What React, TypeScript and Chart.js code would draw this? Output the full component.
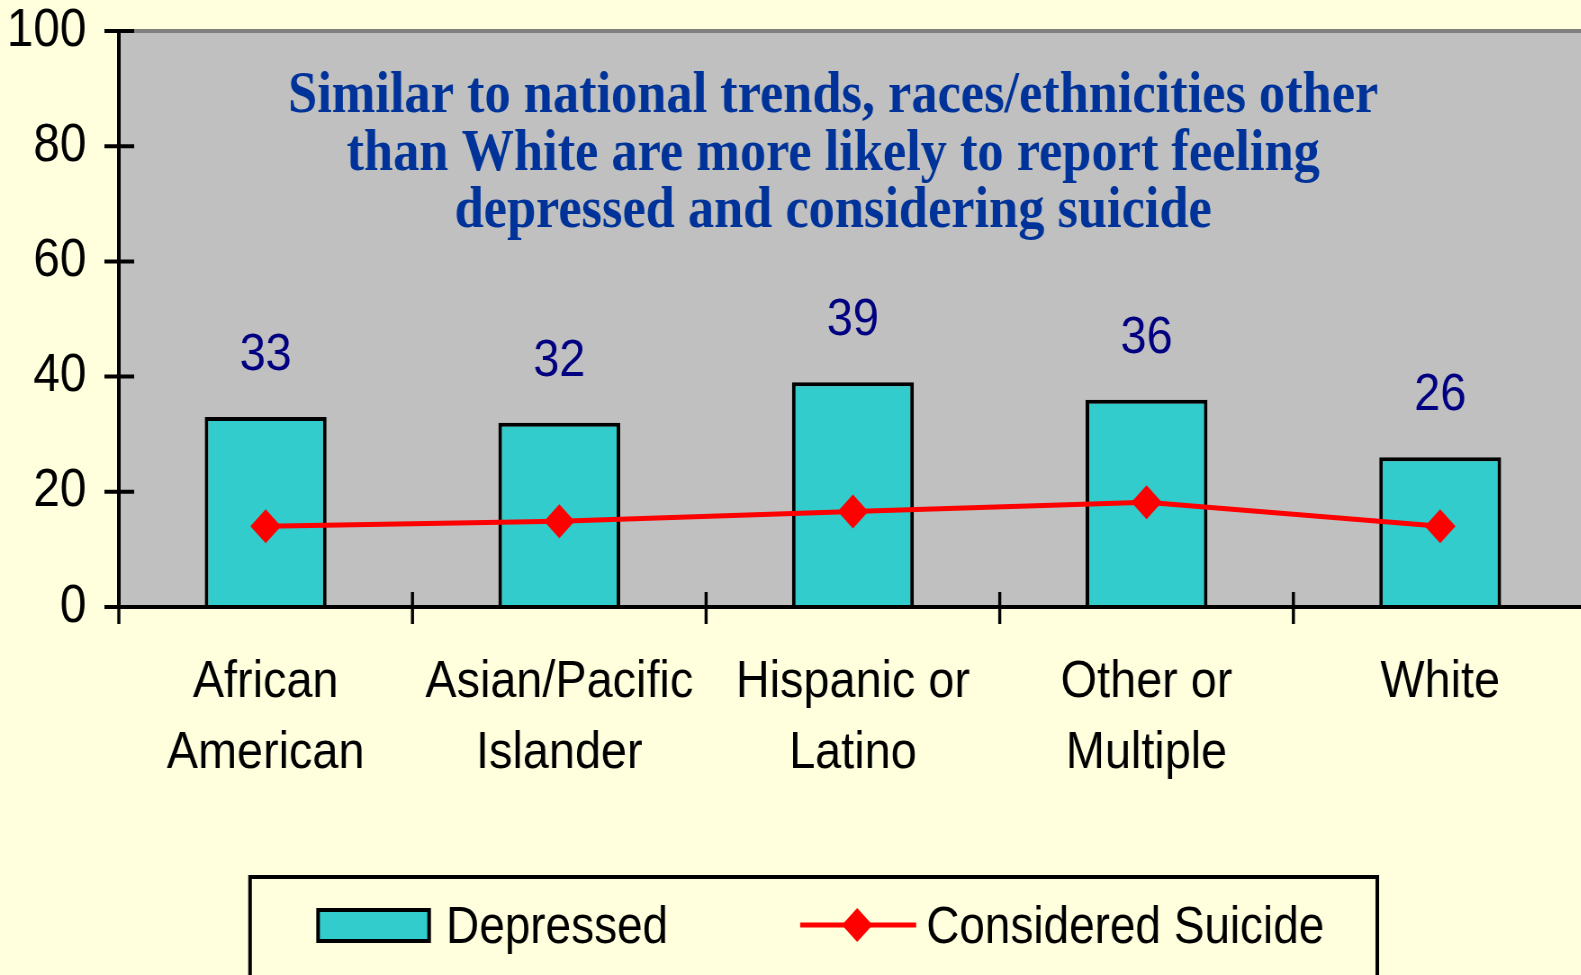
import { useEffect, useRef } from 'react';
import { Chart, registerables } from 'chart.js';

Chart.register(...registerables);

// ---------- data ----------
const categories: string[][] = [
  ['African', 'American'],
  ['Asian/Pacific', 'Islander'],
  ['Hispanic or', 'Latino'],
  ['Other or', 'Multiple'],
  ['White'],
];
const depressed = [33, 32, 39, 36, 26];
const consideredSuicide = [14.0, 14.9, 16.6, 18.2, 14.0];
const yTicks = [0, 20, 40, 60, 80, 100];
const seriesNames = ['Depressed', 'Considered Suicide'];
const titleLines = [
  'Similar to national trends, races/ethnicities other',
  'than White are more likely to report feeling',
  'depressed and considering suicide',
];

// ---------- layout / style ----------
const SQ = 0.9; // horizontal condensation of the whole picture
const PAGE_W = 1581;
const CANVAS_W = 1587; // plot runs slightly past the right edge, as in the reference
const H = 975;
const W = Math.round(CANVAS_W / SQ);
const ix = (v: number) => v / SQ; // displayed x -> internal x

const BG = '#FFFFDD';
const PLOT_BG = '#C0C0C0';
const BAR_FILL = '#33CCCC';
const LINE_RED = '#FF0000';
const SANS = '"Liberation Sans", Arial, Helvetica, sans-serif';
const SERIF = '"Liberation Serif", "Times New Roman", serif';
const DIAMOND_R = 17;

const backdropPlugin = {
  id: 'backdrop',
  beforeDraw(chart: any) {
    const { ctx, chartArea } = chart;
    ctx.save();
    ctx.fillStyle = BG;
    ctx.fillRect(0, 0, chart.width, chart.height);
    ctx.fillStyle = PLOT_BG;
    ctx.fillRect(chartArea.left, chartArea.top, chartArea.right - chartArea.left, chartArea.bottom - chartArea.top);
    ctx.strokeStyle = '#808080';
    ctx.lineWidth = 4;
    ctx.beginPath();
    ctx.moveTo(chartArea.left, chartArea.top);
    ctx.lineTo(chartArea.right, chartArea.top);
    ctx.stroke();
    ctx.restore();
  },
};

const labelsPlugin = {
  id: 'labelsAndTitle',
  afterDatasetsDraw(chart: any) {
    const { ctx } = chart;
    ctx.save();
    // value labels above bars
    const meta = chart.getDatasetMeta(0);
    ctx.fillStyle = '#000080';
    ctx.font = `52px ${SANS}`;
    ctx.textAlign = 'center';
    ctx.textBaseline = 'alphabetic';
    meta.data.forEach((el: any, i: number) => {
      ctx.fillText(String(chart.data.datasets[0].data[i]), el.x, el.y - 47);
    });
    // title inside the plot
    ctx.fillStyle = '#003399';
    ctx.font = `bold 50px ${SERIF}`;
    const w0 = ctx.measureText(titleLines[0]).width;
    const size = (50 * ix(1091)) / w0;
    ctx.font = `bold ${size.toFixed(1)}px ${SERIF}`;
    const baselines = [112, 170, 227];
    titleLines.forEach((t, i) => ctx.fillText(t, ix(833), baselines[i]));
    ctx.restore();
  },
};

const ticksLegendPlugin = {
  id: 'ticksLegend',
  afterDraw(chart: any) {
    const { ctx } = chart;
    const xs = chart.scales.x;
    const ys = chart.scales.y;
    ctx.save();
    ctx.strokeStyle = '#000';
    // y tick marks crossing the axis
    ctx.lineWidth = 4;
    const ax = xs.left;
    yTicks.forEach((v) => {
      const py = ys.getPixelForValue(v);
      ctx.beginPath();
      ctx.moveTo(ax - 16, py);
      ctx.lineTo(ax + 17, py);
      ctx.stroke();
    });
    // x tick marks at category boundaries
    ctx.lineWidth = 3.4;
    const base = ys.getPixelForValue(0);
    for (let i = 0; i < categories.length; i++) {
      const px = xs.getPixelForValue(i - 0.5);
      ctx.beginPath();
      ctx.moveTo(px, base - 15);
      ctx.lineTo(px, base + 17);
      ctx.stroke();
    }

    // legend
    const ds = chart.data.datasets;
    ctx.fillStyle = BG;
    ctx.fillRect(ix(250), 877, ix(1377) - ix(250), 200);
    ctx.lineWidth = 4;
    ctx.strokeStyle = '#000';
    ctx.strokeRect(ix(250), 877, ix(1377) - ix(250), 200);

    // bar symbol
    ctx.fillStyle = ds[0].backgroundColor;
    ctx.fillRect(ix(318), 910, ix(429) - ix(318), 31);
    ctx.lineWidth = 4;
    ctx.strokeStyle = ds[0].borderColor;
    ctx.strokeRect(ix(318), 910, ix(429) - ix(318), 31);

    ctx.fillStyle = '#000';
    ctx.font = `51px ${SANS}`;
    ctx.textAlign = 'left';
    ctx.textBaseline = 'alphabetic';
    ctx.fillText(ds[0].label, ix(446), 943);

    // line symbol
    ctx.strokeStyle = ds[1].borderColor;
    ctx.lineWidth = 5;
    ctx.beginPath();
    ctx.moveTo(ix(800), 925);
    ctx.lineTo(ix(916), 925);
    ctx.stroke();
    const cx = ix(857);
    const r = DIAMOND_R;
    ctx.fillStyle = ds[1].backgroundColor;
    ctx.beginPath();
    ctx.moveTo(cx - r, 925);
    ctx.lineTo(cx, 925 - r);
    ctx.lineTo(cx + r, 925);
    ctx.lineTo(cx, 925 + r);
    ctx.closePath();
    ctx.fill();

    ctx.fillStyle = '#000';
    ctx.fillText(ds[1].label, ix(926), 943);
    ctx.restore();
  },
};

export default function App() {
  const canvasRef = useRef<HTMLCanvasElement | null>(null);

  useEffect(() => {
    const canvas = canvasRef.current;
    if (!canvas) return;
    const chart = new Chart(canvas, {
      type: 'bar',
      data: {
        labels: categories as any,
        datasets: [
          {
            type: 'bar',
            label: seriesNames[0],
            data: depressed,
            backgroundColor: BAR_FILL,
            borderColor: '#000000',
            borderWidth: 4,
            barPercentage: 0.415,
            categoryPercentage: 1,
            order: 1,
          } as any,
          {
            type: 'line',
            label: seriesNames[1],
            data: consideredSuicide,
            borderColor: LINE_RED,
            backgroundColor: LINE_RED,
            borderWidth: 5,
            pointStyle: 'rectRot',
            pointRadius: DIAMOND_R,
            pointBackgroundColor: LINE_RED,
            pointBorderColor: LINE_RED,
            pointBorderWidth: 0,
            tension: 0,
            order: 0,
          } as any,
        ],
      },
      options: {
        responsive: false,
        animation: false,
        devicePixelRatio: 1,
        layout: { autoPadding: false, padding: { top: 31, left: 0, right: 0, bottom: 168 } },
        plugins: {
          legend: { display: false },
          tooltip: { enabled: false },
          title: { display: false },
        },
        scales: {
          x: {
            grid: { display: false, drawTicks: false },
            border: { display: true, color: '#000', width: 4, z: 1 },
            ticks: {
              color: '#000',
              font: { family: SANS, size: 52, lineHeight: 1.365 },
              padding: 40,
              maxRotation: 0,
              autoSkip: false,
            },
            afterFit: (s: any) => {
              s.height = 200;
              s.paddingLeft = 0;
              s.paddingRight = 0;
            },
          },
          y: {
            min: 0,
            max: 100,
            grid: { display: false, drawTicks: false },
            border: { display: true, color: '#000', width: 4, z: 1 },
            ticks: {
              color: '#000',
              font: { family: SANS, size: 53 },
              padding: 36,
            },
            afterBuildTicks: (s: any) => {
              s.ticks = yTicks.map((v) => ({ value: v }));
            },
            afterFit: (s: any) => {
              s.width = 132;
              s.paddingTop = 0;
              s.paddingBottom = 0;
            },
          },
        },
      } as any,
      plugins: [backdropPlugin, labelsPlugin, ticksLegendPlugin],
    });
    return () => chart.destroy();
  }, []);

  return (
    <div
      style={{
        position: 'fixed',
        left: 0,
        top: 0,
        width: PAGE_W + 'px',
        height: H + 'px',
        overflow: 'hidden',
        background: BG,
      }}
    >
      <canvas
        ref={canvasRef}
        width={W}
        height={H}
        style={{ width: CANVAS_W + 'px', height: H + 'px', display: 'block' }}
      />
    </div>
  );
}
